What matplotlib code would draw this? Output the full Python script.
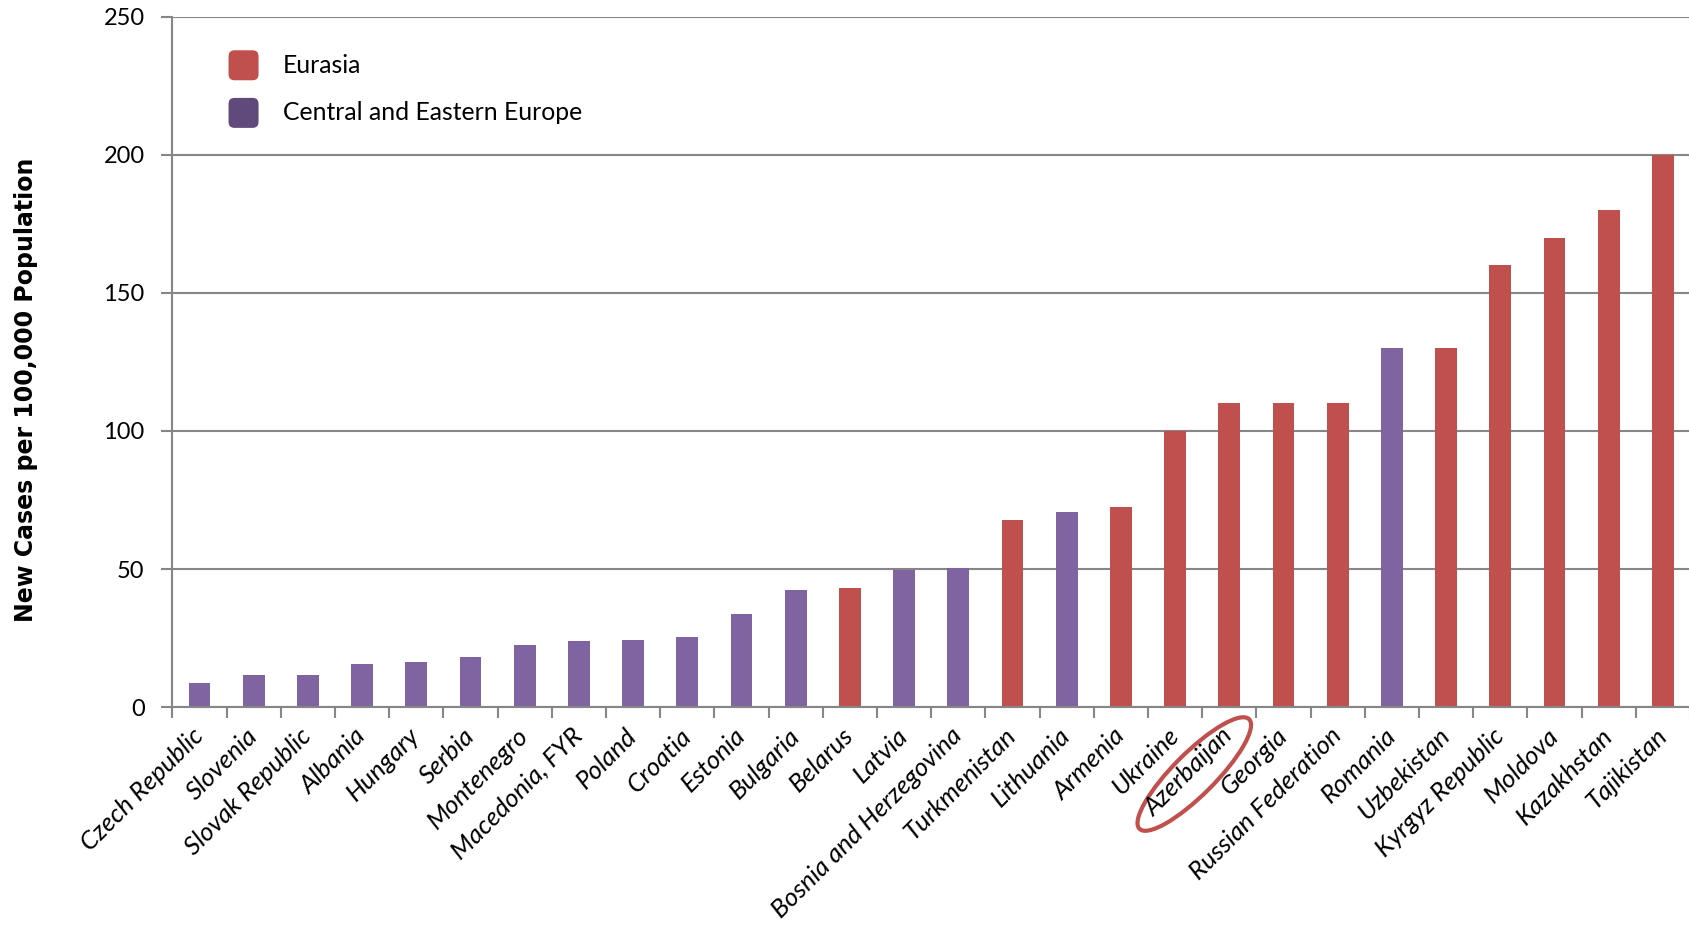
import matplotlib.pyplot as plt
import matplotlib.transforms as mtransforms
from matplotlib.patches import Ellipse, FancyBboxPatch
import numpy as np

# Data
countries = ['Czech Republic', 'Slovenia', 'Slovak Republic', 'Albania', 'Hungary',
             'Serbia', 'Montenegro', 'Macedonia, FYR', 'Poland', 'Croatia',
             'Estonia', 'Bulgaria', 'Belarus', 'Latvia', 'Bosnia and Herzegovina',
             'Turkmenistan', 'Lithuania', 'Armenia', 'Ukraine', 'Azerbaijan',
             'Georgia', 'Russian Federation', 'Romania', 'Uzbekistan',
             'Kyrgyz Republic', 'Moldova', 'Kazakhstan', 'Tajikistan']
cases = [8.8, 11.7, 11.7, 15.7, 16.4, 18.2, 22.5, 24.0, 24.3, 25.4,
         33.7, 42.4, 43.1, 49.7, 50.3, 67.7, 70.6, 72.4, 100, 110,
         110, 110, 130, 130, 160, 170, 180, 200]
region = ['CEE'] * 12 + ['Eurasia', 'CEE', 'CEE', 'Eurasia', 'CEE', 'Eurasia',
          'Eurasia', 'Eurasia', 'Eurasia', 'Eurasia', 'CEE', 'Eurasia',
          'Eurasia', 'Eurasia', 'Eurasia', 'Eurasia']
highlight = 'Azerbaijan'

red = '#C0504D'
purple = '#8064A2'
purple_dark = '#604A7B'
grid_gray = '#868686'

fig = plt.figure(figsize=(16.9, 9.27), dpi=100)
ax = fig.add_axes([0.102, 0.2373, 0.898, 0.7444])

x = np.arange(len(countries))
colors = [red if r == 'Eurasia' else purple for r in region]
ax.bar(x, cases, width=0.4, color=colors, zorder=3)

ax.set_xlim(-0.5, len(countries) - 0.5)
ax.set_ylim(0, 250)
ax.set_yticks([0, 50, 100, 150, 200, 250])
ax.yaxis.grid(True, color=grid_gray, linewidth=1.5, zorder=0)

for s in ['top', 'right']:
    ax.spines[s].set_visible(False)
for s in ['left', 'bottom']:
    ax.spines[s].set_color(grid_gray)
    ax.spines[s].set_linewidth(1.5)
    ax.spines[s].set_zorder(4)

ax.tick_params(axis='y', length=8, width=1.5, color=grid_gray, labelsize=17, pad=12)
for lab in ax.get_yticklabels():
    lab.set_family('Lato')

ax.set_xticks(x)
ax.set_xticks(np.arange(len(countries) + 1) - 0.5, minor=True)
ax.tick_params(axis='x', which='major', length=0, pad=18)
ax.tick_params(axis='x', which='minor', length=8, width=1.5, color=grid_gray)
ax.set_xticklabels(countries, rotation=45, ha='right', va='center',
                   rotation_mode='anchor', fontsize=18.5, family='Lato', style='italic')

# y axis title
fig.text(26 / 1690, 0.579, 'New Cases per 100,000 Population', rotation=90,
         ha='center', va='center', fontsize=17, fontweight='bold', family='DejaVu Sans')

# legend with rounded swatches
legend_items = [('Eurasia', red, 0.930), ('Central and Eastern Europe', purple_dark, 0.861)]
for name, col, yy in legend_items:
    tr = fig.dpi_scale_trans + mtransforms.ScaledTranslation(0.0469, yy, ax.transAxes)
    ax.add_patch(FancyBboxPatch((-0.12, -0.12), 0.24, 0.24,
                                boxstyle='round,pad=0.03,rounding_size=0.06',
                                facecolor=col, edgecolor='none', transform=tr,
                                clip_on=False, zorder=5))
    ax.text(0.0727, yy, name, transform=ax.transAxes, ha='left', va='center',
            fontsize=17.8, family='Lato')

# ellipse around highlighted label
hi = countries.index(highlight)
tr = fig.dpi_scale_trans + mtransforms.ScaledTranslation(hi, 0, ax.transData)
ax.add_patch(Ellipse((-0.35, -0.67), 1.55, 0.42, angle=45, fill=False,
                     edgecolor=red, linewidth=3, transform=tr, clip_on=False))

fig.savefig('out.png', dpi=100)
